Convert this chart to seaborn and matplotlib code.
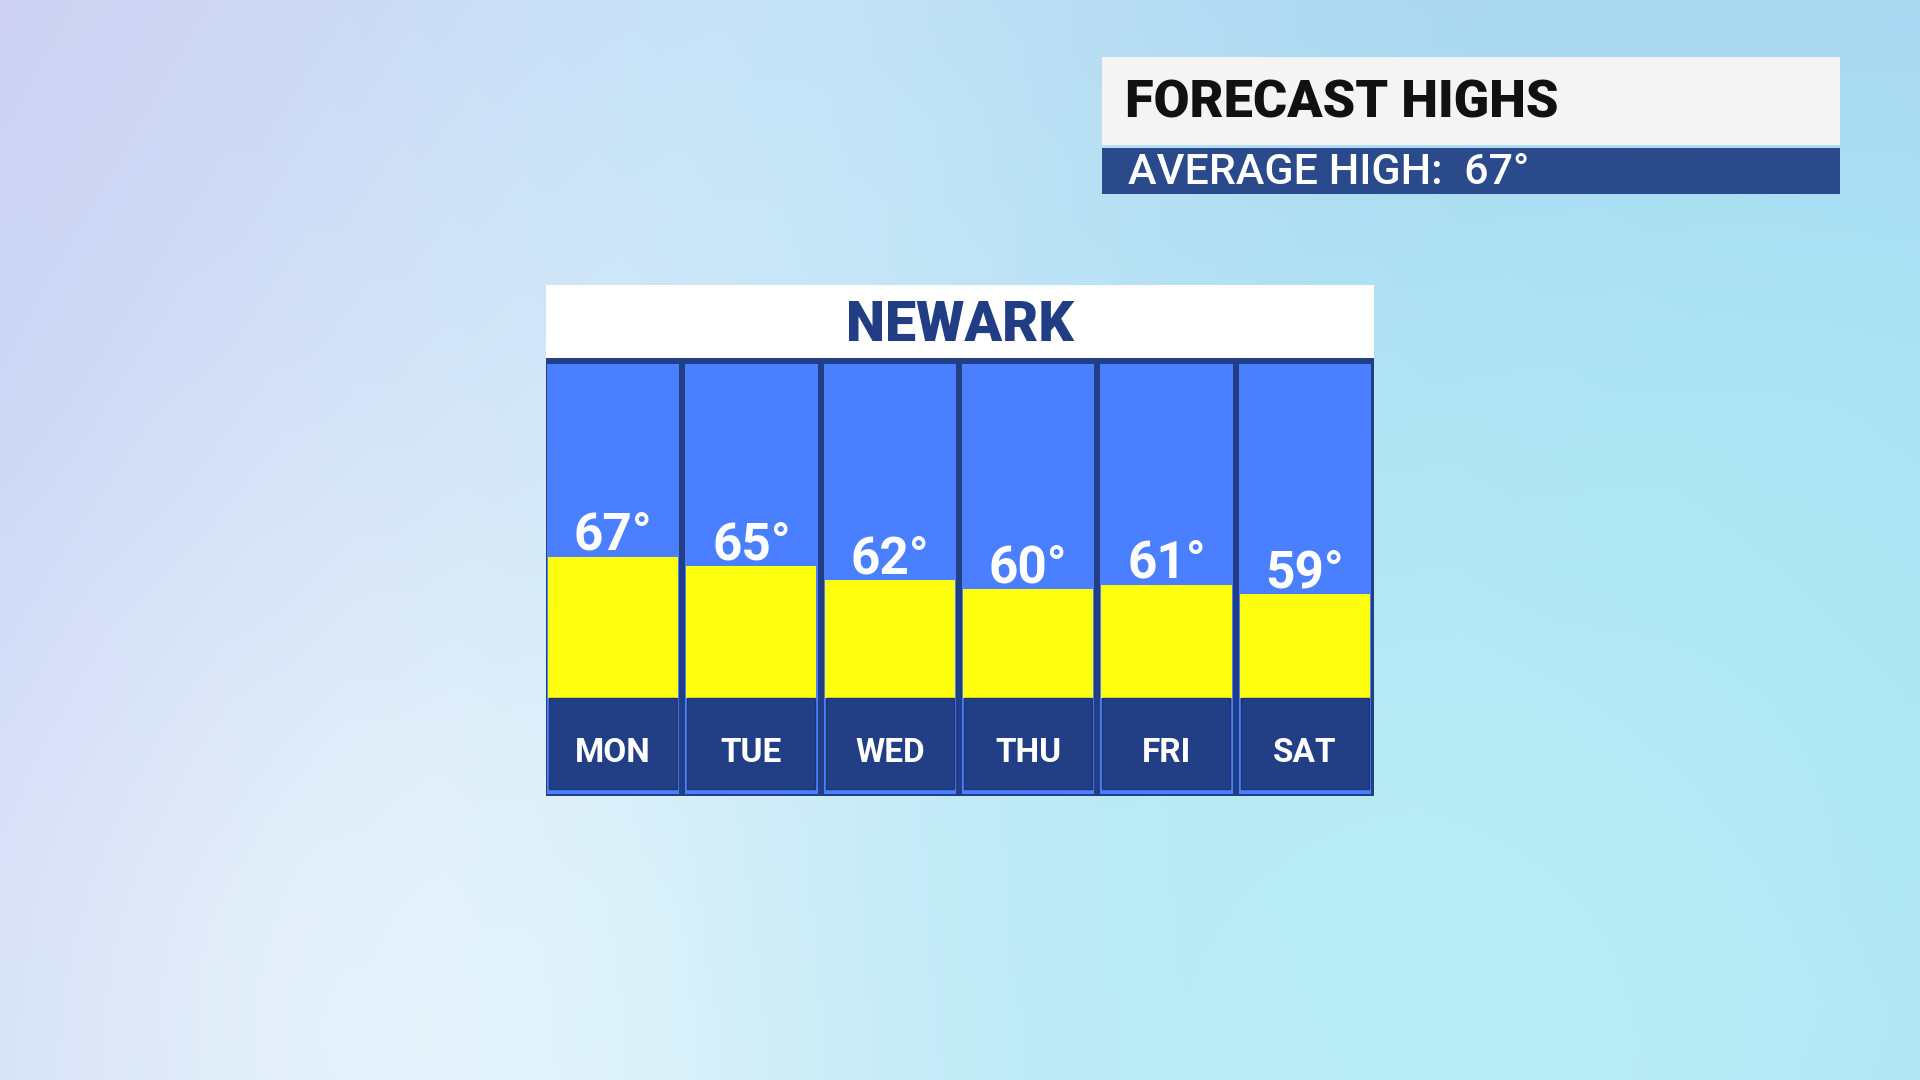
import numpy as np
import seaborn as sns
import matplotlib.pyplot as plt
from matplotlib.colors import to_rgb

# data
days = ["MON", "TUE", "WED", "THU", "FRI", "SAT"]
highs = [67, 65, 62, 60, 61, 59]
city = "NEWARK"
title = "FORECAST HIGHS"
subtitle = "AVERAGE HIGH:  67°"

sns.set_theme(style="white")
plt.rcParams["font.family"] = ["Roboto", "DejaVu Sans"]

W, H = 1920, 1080
fig = plt.figure(figsize=(19.2, 10.8), dpi=100)


def px_axes(x0, y0, x1, y1):
    return fig.add_axes([x0 / W, 1 - y1 / H, (x1 - x0) / W, (y1 - y0) / H])


def blank(ax, color):
    ax.set_facecolor(color)
    ax.set_xticks([])
    ax.set_yticks([])
    for s in ax.spines.values():
        s.set_visible(False)


# soft background
gx, gy = np.meshgrid(np.linspace(0, 1, 192), np.linspace(0, 1, 108))
img = np.ones((108, 192, 3)) * np.array(to_rgb("#b9d3f3"))
blobs = [
    (0.0, 0.0, 0.28, "#d3d0f2"),
    (0.02, 0.6, 0.22, "#c0c9f3"),
    (0.45, 0.15, 0.2, "#c4e2f8"),
    (0.3, 0.95, 0.28, "#eef5fc"),
    (0.9, 0.05, 0.2, "#a8c6ec"),
    (0.95, 0.6, 0.3, "#a6e4f4"),
    (0.75, 0.95, 0.25, "#b8ecf6"),
]
for bx, by, sig, c in blobs:
    w = np.exp(-((gx - bx) ** 2 + ((gy - by) * 0.5625) ** 2) / (2 * sig ** 2))[..., None]
    img = img * (1 - w) + np.array(to_rgb(c)) * w
bg = fig.add_axes([0, 0, 1, 1])
bg.imshow(img, aspect="auto", interpolation="bicubic", extent=[0, 1, 0, 1])
bg.axis("off")

# title box
tb = px_axes(1102, 57, 1840, 145)
blank(tb, "#f4f4f4")
tb.text(0.031, 0.47, title, transform=tb.transAxes, ha="left", va="center",
        fontsize=37.5, fontweight="heavy", color="#111111")
sb = px_axes(1102, 148, 1840, 194)
blank(sb, "#2b4a8c")
sb.text(0.035, 0.46, subtitle, transform=sb.transAxes, ha="left", va="center",
        fontsize=31, fontweight="medium", color="white")

# city header
hd = px_axes(546, 285, 1374, 358)
blank(hd, "white")
hd.text(0.5, 0.45, city, transform=hd.transAxes, ha="center", va="center",
        fontsize=40, fontweight="heavy", color="#213e85")

# bar panel
navy = "#223f86"
col_blue = "#4a7fff"
yellow = "#ffff10"
base = 36.5
ppd = 4.625  # pixels per degree
y_lo = base - (796 - 698) / ppd
y_col_top = base + (698 - 364) / ppd
y_hi = base + (698 - 358) / ppd

ax = px_axes(546, 358, 1374, 796)
blank(ax, navy)

sns.barplot(x=days, y=highs, color=yellow, saturation=1, width=0.94,
            linewidth=0, zorder=2, ax=ax)
x = np.arange(len(days))
ax.bar(x, y_col_top - (y_lo + 0.5), bottom=y_lo + 0.5, width=0.955,
       color=col_blue, linewidth=0, zorder=1)
# hide the part of the yellow bars under the day boxes
ax.bar(x, base - y_lo, bottom=y_lo, width=1.0, color=navy, linewidth=0, zorder=2.4)
ax.bar(x, base - (y_lo + 0.5), bottom=y_lo + 0.5, width=0.955,
       color=col_blue, linewidth=0, zorder=2.5)
ax.bar(x, base - (y_lo + 1.5), bottom=y_lo + 1.5, width=0.925,
       color=navy, edgecolor="#1c3575", linewidth=1, zorder=3)

for i, (d, t) in enumerate(zip(days, highs)):
    ax.text(i, t + 1.5, f"{t}°", ha="center", va="baseline",
            fontsize=37, fontweight="bold", color="white", zorder=4)
    ax.text(i, base - 13.8, d, ha="center", va="baseline",
            fontsize=24, fontweight="bold", color="white", zorder=4)

ax.set_xlim(-0.485, 5.5)
ax.set_ylim(y_lo, y_hi)
ax.set_xlabel("")
ax.set_ylabel("")
ax.set_xticks([])
ax.set_yticks([])

fig.savefig("out.png", dpi=100)
